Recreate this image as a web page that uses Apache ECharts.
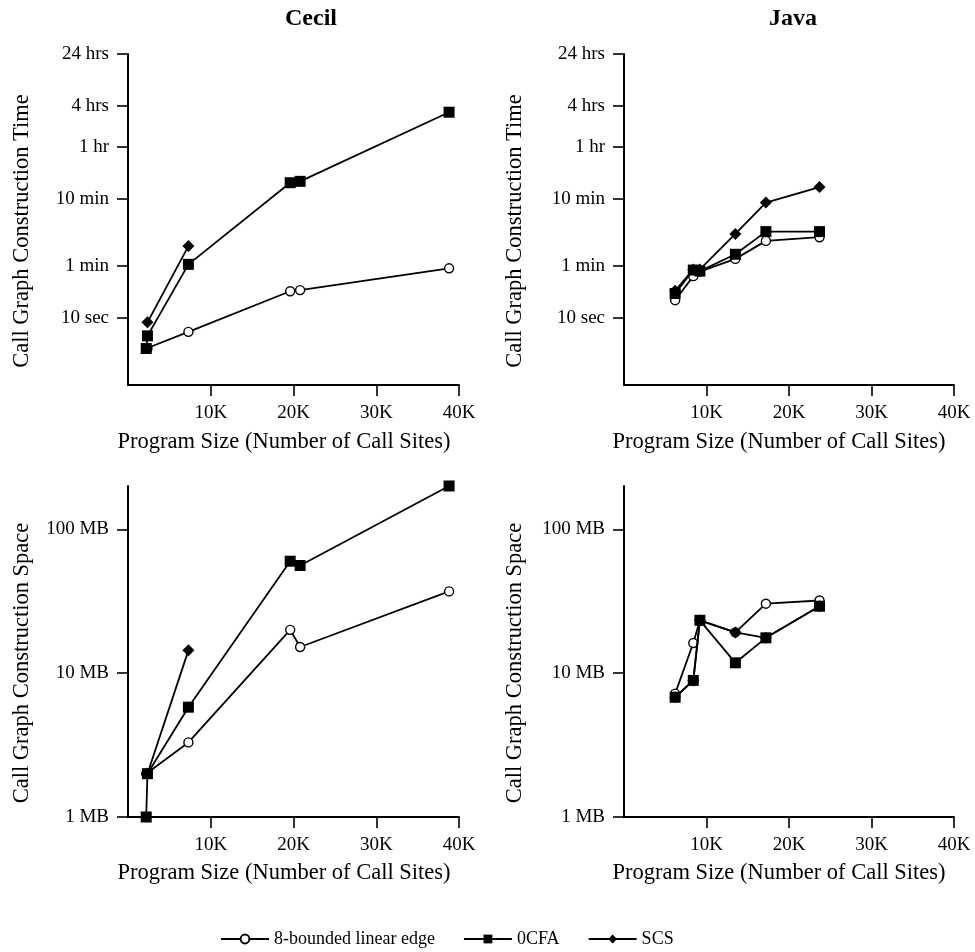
<!DOCTYPE html>
<html>
<head>
<meta charset="utf-8">
<script src="https://cdn.jsdelivr.net/npm/echarts@6/dist/echarts.min.js"></script>
<style>
  html, body { margin: 0; padding: 0; background: #fff; }
  #chart { width: 975px; height: 952px; }
</style>
</head>
<body>
<div id="chart"></div>
<script>
// ---------------- data ----------------
var seriesNames = ['8-bounded linear edge', '0CFA', 'SCS'];
var panelTitles = ['Cecil', 'Java'];

// program sizes (number of call sites)
var cecilSize = [2200, 2350, 7300, 19600, 20800, 38800];
var javaSize  = [6200, 8400, 9200, 13500, 17200, 23700];

// call graph construction time (seconds)
var cecil8Time    = [3.5, 3.5, 6.2, 25, 26, 55];
var cecil0cfaTime = [3.5, 5.4, 63, 1040, 1090, 11700];
var cecilScsTime  = [null, 8.6, 118, null, null, null];
var java8Time     = [18.4, 42, 49, 76, 141, 160];
var java0cfaTime  = [23.2, 51.8, 50, 89, 194, 194];
var javaScsTime   = [25.4, 53, 53, 179, 525, 895];

// call graph construction space (MB)
var cecil8Space    = [2.0, 2.0, 3.3, 20, 15.2, 37];
var cecil0cfaSpace = [1.0, 2.0, 5.8, 60, 56, 200];
var cecilScsSpace  = [null, 2.0, 14.4, null, null, null];
var java8Space     = [7.2, 16.2, 23.3, 19.2, 30.4, 32];
var java0cfaSpace  = [6.8, 8.9, 23.3, 11.8, 17.6, 29.2];
var javaScsSpace   = [6.8, 8.9, 23.3, 19.2, 17.6, 29.2];

// tick labels
var xTickValues = [10000, 20000, 30000, 40000];
var xTickLabels = ['10K', '20K', '30K', '40K'];
var timeTickValues = [10, 60, 600, 3600, 14400, 86400];
var timeTickLabels = ['10 sec', '1 min', '10 min', '1 hr', '4 hrs', '24 hrs'];
var spaceTickValues = [1, 10, 100];
var spaceTickLabels = ['1 MB', '10 MB', '100 MB'];

var xAxisName = 'Program Size (Number of Call Sites)';
var timeAxisName = 'Call Graph Construction Time';
var spaceAxisName = 'Call Graph Construction Space';

// ---------------- helpers ----------------
var FONT = "'Liberation Serif', 'Times New Roman', Times, serif";

function pairs(xs, ys) {
  var out = [];
  for (var i = 0; i < xs.length; i++) {
    if (ys[i] !== null && ys[i] !== undefined) out.push([xs[i], ys[i]]);
  }
  return out;
}
function labelMap(vals, labels) {
  return function (v) {
    for (var i = 0; i < vals.length; i++) {
      if (Math.abs(vals[i] - v) / vals[i] < 1e-6) return labels[i];
    }
    return '';
  };
}

var grids = [
  { left: 128, top: 54,  width: 331, height: 331 },
  { left: 624, top: 54,  width: 330, height: 331 },
  { left: 128, top: 486, width: 331, height: 331 },
  { left: 624, top: 486, width: 330, height: 331 }
];

var xAxes = grids.map(function (g, i) {
  return {
    type: 'value', gridIndex: i, min: 0, max: 40000,
    axisLine: { show: true, onZero: false, lineStyle: { color: '#000', width: 2 } },
    axisTick: { show: true, length: 11, customValues: xTickValues, lineStyle: { color: '#000', width: 1.6 } },
    axisLabel: { customValues: xTickValues, formatter: labelMap(xTickValues, xTickLabels),
                 color: '#000', fontSize: 19, fontFamily: FONT, margin: 19 },
    splitLine: { show: false }
  };
});

function yAxisFor(i, isTime) {
  var vals = isTime ? timeTickValues : spaceTickValues;
  var labs = isTime ? timeTickLabels : spaceTickLabels;
  return {
    type: 'log', logBase: 10, gridIndex: i,
    min: 1, max: isTime ? 86400 : 200,
    axisLine: { show: true, onZero: false, lineStyle: { color: '#000', width: 2 } },
    axisTick: { show: true, length: 11, customValues: vals, lineStyle: { color: '#000', width: 1.6 } },
    axisLabel: { customValues: vals, formatter: labelMap(vals, labs),
                 color: '#000', fontSize: 19, fontFamily: FONT, margin: 19 },
    splitLine: { show: false },
    minorTick: { show: false }
  };
}
var yAxes = [yAxisFor(0, true), yAxisFor(1, true), yAxisFor(2, false), yAxisFor(3, false)];

var panelData = [
  [pairs(cecilSize, cecil8Time),  pairs(cecilSize, cecil0cfaTime),  pairs(cecilSize, cecilScsTime)],
  [pairs(javaSize,  java8Time),   pairs(javaSize,  java0cfaTime),   pairs(javaSize,  javaScsTime)],
  [pairs(cecilSize, cecil8Space), pairs(cecilSize, cecil0cfaSpace), pairs(cecilSize, cecilScsSpace)],
  [pairs(javaSize,  java8Space),  pairs(javaSize,  java0cfaSpace),  pairs(javaSize,  javaScsSpace)]
];

var styles = [
  { symbol: 'circle',  symbolSize: 9,  z: 2, itemStyle: { color: '#fff', borderColor: '#000', borderWidth: 1.4 } },
  { symbol: 'rect',    symbolSize: 11, z: 4, itemStyle: { color: '#000', borderColor: '#000', borderWidth: 0 } },
  { symbol: 'diamond', symbolSize: 12, z: 3, itemStyle: { color: '#000', borderColor: '#000', borderWidth: 0 } }
];

var series = [];
panelData.forEach(function (sets, gi) {
  sets.forEach(function (d, si) {
    series.push({
      type: 'line', name: seriesNames[si],
      xAxisIndex: gi, yAxisIndex: gi,
      data: d,
      symbol: styles[si].symbol, symbolSize: styles[si].symbolSize,
      showAllSymbol: true,
      itemStyle: styles[si].itemStyle,
      lineStyle: { color: '#000', width: 1.8 },
      z: styles[si].z,
      emphasis: { disabled: true },
      animation: false
    });
  });
});

function txt(text, x, y, size, opts) {
  opts = opts || {};
  return {
    type: 'text', x: x, y: y, rotation: opts.rotate ? Math.PI / 2 : 0,
    silent: true,
    style: {
      text: text, fill: '#000', fontSize: size, fontFamily: FONT,
      fontWeight: opts.bold ? 'bold' : 'normal',
      align: 'center', verticalAlign: 'middle'
    }
  };
}

var graphics = [
  txt(panelTitles[0], 311, 19, 24, { bold: true }),
  txt(panelTitles[1], 793, 19, 24, { bold: true }),
  txt(timeAxisName, 22, 231, 22.5, { rotate: true }),
  txt(timeAxisName, 515, 231, 22.5, { rotate: true }),
  txt(spaceAxisName, 22, 663, 22.5, { rotate: true }),
  txt(spaceAxisName, 515, 663, 22.5, { rotate: true }),
  txt(xAxisName, 284, 442, 22.5),
  txt(xAxisName, 779, 442, 22.5),
  txt(xAxisName, 284, 873, 22.5),
  txt(xAxisName, 779, 873, 22.5)
];

var chart = echarts.init(document.getElementById('chart'), null, { renderer: 'canvas' });
chart.setOption({
  animation: false,
  backgroundColor: '#fff',
  grid: grids,
  xAxis: xAxes,
  yAxis: yAxes,
  series: series,
  legend: {
    data: seriesNames,
    left: 215, top: 925,
    itemWidth: 48, itemHeight: 11, itemGap: 28,
    selectedMode: false,
    textStyle: { color: '#000', fontSize: 18, fontFamily: FONT }
  },
  graphic: graphics
});
</script>
</body>
</html>
